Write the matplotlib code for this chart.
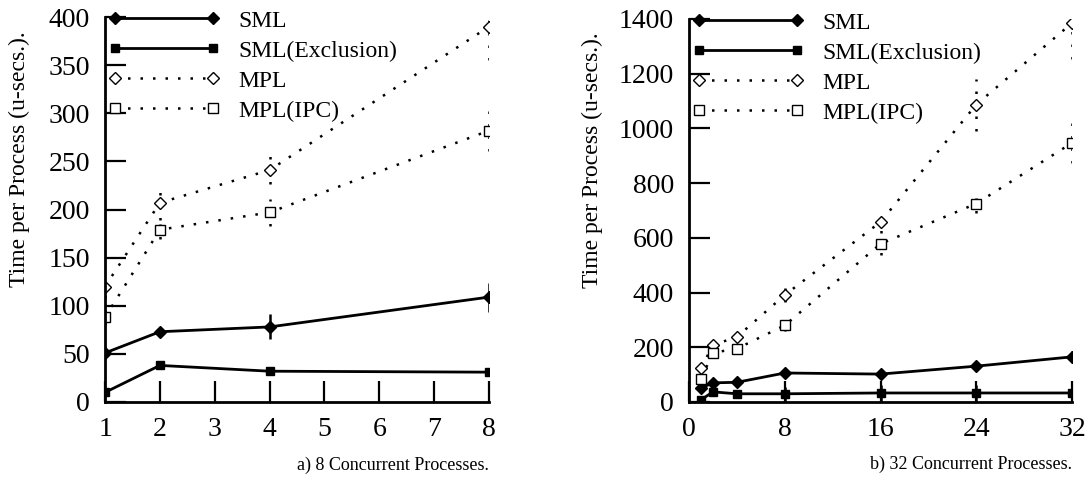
import matplotlib
matplotlib.use("Agg")
import matplotlib.pyplot as plt

plt.rcParams['font.family'] = ['Liberation Serif', 'DejaVu Serif']

# a) 8 concurrent processes
procs_a = [1, 2, 4, 8]
sml_a = [51, 73, 78, 109]
sml_a_err = [2, 3, 13, 15]
excl_a = [10, 38, 32, 31]
excl_a_err = [2, 3, 3, 2]
mpl_a = [120, 207, 241, 390]
mpl_a_err = [12, 18, 15, 35]
ipc_a = [88, 179, 197, 282]
ipc_a_err = [8, 10, 14, 21]

# b) 32 concurrent processes
procs_b = [1, 2, 4, 8, 16, 24, 32]
sml_b = [51, 70, 72, 106, 102, 131, 165]
sml_b_err = [5, 5, 5, 10, 10, 15, 20]
excl_b = [8, 37, 30, 30, 33, 33, 33]
excl_b_err = [3, 3, 3, 25, 30, 30, 30]
mpl_b = [124, 208, 238, 391, 658, 1087, 1385]
mpl_b_err = [15, 20, 15, 25, 40, 95, 130]
ipc_b = [85, 180, 195, 280, 578, 725, 947]
ipc_b_err = [10, 15, 10, 20, 40, 35, 75]

labels = ["SML", "SML(Exclusion)", "MPL", "MPL(IPC)"]
dotted = (0, (1, 4))


def draw(ax, x, series, errs):
    styles = [
        dict(marker='D', mfc='black', ms=6, ls='-'),
        dict(marker='s', mfc='black', ms=6, ls='-'),
        dict(marker='D', mfc='white', ms=6.5, ls=dotted),
        dict(marker='s', mfc='white', ms=6.5, ls=dotted),
    ]
    handles = []
    for y, e, st, lab in zip(series, errs, styles, labels):
        solid = st['ls'] == '-'
        cont = ax.errorbar(x, y, yerr=e, color='black', mec='black',
                           marker=st['marker'], mfc=st['mfc'],
                           ms=st['ms'], mew=1.0, ls=st['ls'],
                           lw=2.0 if solid else 1.8,
                           elinewidth=1.8, capsize=0)
        if not solid:
            cont[2][0].set_linestyle(dotted)
        handles.append(cont[0])
    for side in ['top', 'right']:
        ax.spines[side].set_visible(False)
    for side in ['left', 'bottom']:
        ax.spines[side].set_linewidth(2)
    ax.tick_params(direction='in', length=15, width=1.6, labelsize=20)
    ax.tick_params(axis='x', pad=11)
    ax.tick_params(axis='y', pad=11)
    ax.set_ylabel("Time per Process (u-secs.).", fontsize=17)
    ax.legend(handles, labels, loc='upper left',
              bbox_to_anchor=(0.008, 1.018),
              frameon=False, fontsize=17, numpoints=2,
              handlelength=4.75, handletextpad=0.76,
              labelspacing=0.36, borderpad=0, borderaxespad=0)


fig = plt.figure(figsize=(10.92, 4.78), dpi=100)
ax1 = fig.add_axes([0.0962, 0.159, 0.3516, 0.8054])
ax2 = fig.add_axes([0.631, 0.159, 0.3507, 0.8014])

draw(ax1, procs_a, [sml_a, excl_a, mpl_a, ipc_a],
     [sml_a_err, excl_a_err, mpl_a_err, ipc_a_err])
ax1.set_xlim(1, 8)
ax1.set_ylim(0, 400)
ax1.set_xticks(range(1, 9))
ax1.set_yticks(range(0, 401, 50))
ax1.yaxis.set_label_coords(-0.195, 0.63)
ax1.text(1.0, -0.164, "a) 8 Concurrent Processes.", transform=ax1.transAxes,
         ha='right', va='center', fontsize=13)

draw(ax2, procs_b, [sml_b, excl_b, mpl_b, ipc_b],
     [sml_b_err, excl_b_err, mpl_b_err, ipc_b_err])
ax2.set_xlim(0, 32)
ax2.set_ylim(0, 1400)
ax2.set_xticks(range(0, 33, 8))
ax2.set_yticks(range(0, 1401, 200))
ax2.yaxis.set_label_coords(-0.225, 0.63)
ax2.text(1.0, -0.164, "b) 32 Concurrent Processes.", transform=ax2.transAxes,
         ha='right', va='center', fontsize=13)

fig.savefig("out.png", dpi=100)
